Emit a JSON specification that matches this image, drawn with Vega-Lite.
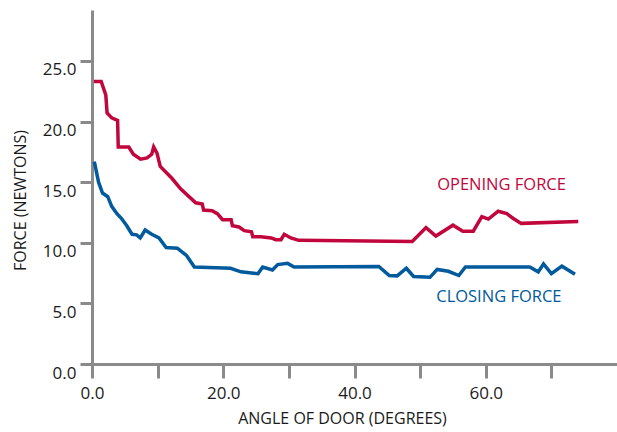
{
  "$schema": "https://vega.github.io/schema/vega-lite/v6.json",
  "width": 525,
  "height": 354,
  "autosize": {"type": "none"},
  "padding": {"left": 92, "top": 10, "right": 0, "bottom": 68},
  "background": "white",
  "config": {
    "view": {"stroke": null},
    "font": "Open Sans",
    "axis": {
      "grid": false,
      "domainColor": "#8a8a8a",
      "domainWidth": 3,
      "tickColor": "#8a8a8a",
      "tickWidth": 3,
      "labelFont": "Open Sans",
      "labelFontSize": 17,
      "labelColor": "#1a1a1a",
      "titleFont": "Open Sans",
      "titleFontSize": 16,
      "titleFontWeight": "normal",
      "titleColor": "#1a1a1a"
    }
  },
  "datasets": {
    "curves": [
      {"angle": 0.3, "force": 23.3, "series": "Opening"},
      {"angle": 1.4, "force": 23.3, "series": "Opening"},
      {"angle": 2.1, "force": 22.2, "series": "Opening"},
      {"angle": 2.3, "force": 20.7, "series": "Opening"},
      {"angle": 3.0, "force": 20.3, "series": "Opening"},
      {"angle": 3.9, "force": 20.1, "series": "Opening"},
      {"angle": 4.0, "force": 17.9, "series": "Opening"},
      {"angle": 5.6, "force": 17.9, "series": "Opening"},
      {"angle": 6.3, "force": 17.3, "series": "Opening"},
      {"angle": 7.4, "force": 16.9, "series": "Opening"},
      {"angle": 8.4, "force": 17.0, "series": "Opening"},
      {"angle": 9.1, "force": 17.3, "series": "Opening"},
      {"angle": 9.4, "force": 17.9, "series": "Opening"},
      {"angle": 9.9, "force": 17.4, "series": "Opening"},
      {"angle": 10.4, "force": 16.3, "series": "Opening"},
      {"angle": 12.2, "force": 15.3, "series": "Opening"},
      {"angle": 13.5, "force": 14.45, "series": "Opening"},
      {"angle": 15.8, "force": 13.3, "series": "Opening"},
      {"angle": 16.8, "force": 13.2, "series": "Opening"},
      {"angle": 17.0, "force": 12.7, "series": "Opening"},
      {"angle": 18.3, "force": 12.65, "series": "Opening"},
      {"angle": 19.1, "force": 12.4, "series": "Opening"},
      {"angle": 19.9, "force": 11.9, "series": "Opening"},
      {"angle": 21.2, "force": 11.9, "series": "Opening"},
      {"angle": 21.4, "force": 11.4, "series": "Opening"},
      {"angle": 22.4, "force": 11.3, "series": "Opening"},
      {"angle": 23.2, "force": 11.0, "series": "Opening"},
      {"angle": 24.3, "force": 10.9, "series": "Opening"},
      {"angle": 24.5, "force": 10.5, "series": "Opening"},
      {"angle": 25.7, "force": 10.5, "series": "Opening"},
      {"angle": 27.3, "force": 10.4, "series": "Opening"},
      {"angle": 28.0, "force": 10.25, "series": "Opening"},
      {"angle": 28.8, "force": 10.25, "series": "Opening"},
      {"angle": 29.3, "force": 10.7, "series": "Opening"},
      {"angle": 30.3, "force": 10.4, "series": "Opening"},
      {"angle": 31.5, "force": 10.2, "series": "Opening"},
      {"angle": 48.8, "force": 10.1, "series": "Opening"},
      {"angle": 50.9, "force": 11.25, "series": "Opening"},
      {"angle": 52.4, "force": 10.55, "series": "Opening"},
      {"angle": 55.0, "force": 11.45, "series": "Opening"},
      {"angle": 56.5, "force": 10.95, "series": "Opening"},
      {"angle": 58.1, "force": 10.95, "series": "Opening"},
      {"angle": 59.4, "force": 12.15, "series": "Opening"},
      {"angle": 60.4, "force": 11.95, "series": "Opening"},
      {"angle": 61.9, "force": 12.6, "series": "Opening"},
      {"angle": 63.2, "force": 12.4, "series": "Opening"},
      {"angle": 64.2, "force": 12.0, "series": "Opening"},
      {"angle": 65.4, "force": 11.6, "series": "Opening"},
      {"angle": 74.1, "force": 11.75, "series": "Opening"},
      {"angle": 0.35, "force": 16.7, "series": "Closing"},
      {"angle": 1.0, "force": 15.0, "series": "Closing"},
      {"angle": 1.6, "force": 14.1, "series": "Closing"},
      {"angle": 2.4, "force": 13.8, "series": "Closing"},
      {"angle": 3.0, "force": 13.0, "series": "Closing"},
      {"angle": 3.8, "force": 12.4, "series": "Closing"},
      {"angle": 4.5, "force": 12.0, "series": "Closing"},
      {"angle": 5.3, "force": 11.4, "series": "Closing"},
      {"angle": 6.1, "force": 10.7, "series": "Closing"},
      {"angle": 6.8, "force": 10.65, "series": "Closing"},
      {"angle": 7.35, "force": 10.4, "series": "Closing"},
      {"angle": 8.1, "force": 11.05, "series": "Closing"},
      {"angle": 9.1, "force": 10.7, "series": "Closing"},
      {"angle": 10.2, "force": 10.4, "series": "Closing"},
      {"angle": 11.3, "force": 9.6, "series": "Closing"},
      {"angle": 13.0, "force": 9.55, "series": "Closing"},
      {"angle": 14.4, "force": 8.95, "series": "Closing"},
      {"angle": 15.6, "force": 8.0, "series": "Closing"},
      {"angle": 21.1, "force": 7.9, "series": "Closing"},
      {"angle": 22.7, "force": 7.6, "series": "Closing"},
      {"angle": 25.3, "force": 7.45, "series": "Closing"},
      {"angle": 26.0, "force": 8.0, "series": "Closing"},
      {"angle": 27.5, "force": 7.75, "series": "Closing"},
      {"angle": 28.3, "force": 8.2, "series": "Closing"},
      {"angle": 29.8, "force": 8.3, "series": "Closing"},
      {"angle": 30.8, "force": 8.0, "series": "Closing"},
      {"angle": 43.7, "force": 8.05, "series": "Closing"},
      {"angle": 45.3, "force": 7.3, "series": "Closing"},
      {"angle": 46.5, "force": 7.27, "series": "Closing"},
      {"angle": 47.9, "force": 7.9, "series": "Closing"},
      {"angle": 49.0, "force": 7.22, "series": "Closing"},
      {"angle": 51.5, "force": 7.15, "series": "Closing"},
      {"angle": 52.6, "force": 7.8, "series": "Closing"},
      {"angle": 54.3, "force": 7.65, "series": "Closing"},
      {"angle": 55.9, "force": 7.3, "series": "Closing"},
      {"angle": 56.9, "force": 8.0, "series": "Closing"},
      {"angle": 66.7, "force": 8.0, "series": "Closing"},
      {"angle": 68.0, "force": 7.6, "series": "Closing"},
      {"angle": 68.8, "force": 8.25, "series": "Closing"},
      {"angle": 70.0, "force": 7.45, "series": "Closing"},
      {"angle": 71.6, "force": 8.07, "series": "Closing"},
      {"angle": 73.6, "force": 7.4, "series": "Closing"}
    ],
    "labels": [
      {"angle": 62.4, "force": 14.75, "series": "Opening", "label": "OPENING FORCE"},
      {"angle": 62.0, "force": 5.55, "series": "Closing", "label": "CLOSING FORCE"}
    ]
  },
  "layer": [
    {
      "data": {"name": "curves"},
      "mark": {"type": "line", "strokeWidth": 3.5, "strokeJoin": "miter", "clip": false},
      "encoding": {
        "x": {
          "field": "angle",
          "type": "quantitative",
          "scale": {"domain": [0, 80], "nice": false, "zero": true},
          "axis": {
            "title": "ANGLE OF DOOR (DEGREES)",
            "values": [0, 10, 20, 30, 40, 50, 60, 70],
            "labelExpr": "datum.value % 20 === 0 ? format(datum.value, '.1f') : ''",
            "tickSize": 14,
            "labelPadding": 7,
            "labelFlush": false,
            "titleX": 250,
            "titleY": 46,
            "titleAnchor": null
          }
        },
        "y": {
          "field": "force",
          "type": "quantitative",
          "scale": {"domain": [0, 29.2], "nice": false},
          "axis": {
            "title": "FORCE (NEWTONS)",
            "values": [0, 5, 10, 15, 20, 25],
            "format": ".1f",
            "tickSize": 12,
            "labelPadding": 4,
            "labelOffset": 9,
            "labelFlush": false,
            "titleX": -72,
            "titleY": 190,
            "titleAngle": -90,
            "titleAlign": "center",
            "titleBaseline": "middle"
          }
        },
        "color": {
          "field": "series",
          "type": "nominal",
          "scale": {"domain": ["Opening", "Closing"], "range": ["#c1063d", "#005a9c"]},
          "legend": null
        },
        "detail": {"field": "series"}
      }
    },
    {
      "data": {"name": "labels"},
      "mark": {"type": "text", "fontSize": 16.5, "font": "Open Sans", "align": "center", "baseline": "middle"},
      "encoding": {
        "x": {"field": "angle", "type": "quantitative"},
        "y": {"field": "force", "type": "quantitative"},
        "text": {"field": "label"},
        "color": {
          "field": "series",
          "type": "nominal",
          "scale": {"domain": ["Opening", "Closing"], "range": ["#c1063d", "#005a9c"]},
          "legend": null
        }
      }
    }
  ]
}
